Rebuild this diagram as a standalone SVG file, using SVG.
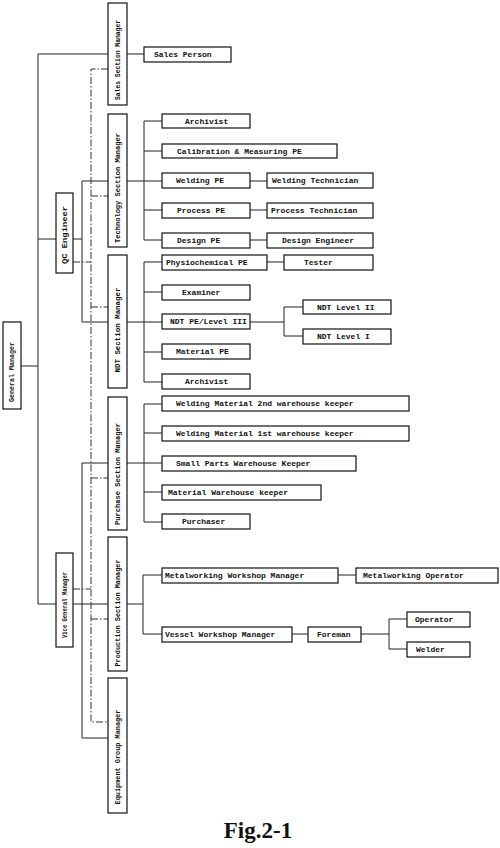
<svg xmlns="http://www.w3.org/2000/svg" width="500" height="848" viewBox="0 0 500 848">
<style>
.b{fill:#fff;stroke:#111;stroke-width:1.2}
.t{font-family:"Liberation Mono",monospace;font-weight:bold;font-size:8px;fill:#111;dominant-baseline:central}
.v{font-family:"Liberation Mono",monospace;font-weight:bold;font-size:7px;fill:#111;text-anchor:middle;dominant-baseline:central}
.l{fill:none;stroke:#222;stroke-width:1}
.d{fill:none;stroke:#333;stroke-width:1;stroke-dasharray:7 2 1.5 2}
</style>
<rect width="500" height="848" fill="#fff"/>
<g id="connectors">
<path class="l" d="M38 54V604M21 366H38M38 54H108M38 239H56M73 239H82M82 181V322M82 181H108M82 322H108M38 604H56M73 604H108M82 463V738M82 463H108M82 738H108"/>
<path class="d" d="M108 69H91V722H108M91 196H108M91 307H108M91 478H108M91 619H108M73 262H91M73 589H91"/>
<path class="l" d="M127 54H144"/>
<path class="l" d="M127 181H162M144 121V240M144 121H162M144 151H162M144 210H162M144 240H162M250 181H267M250 210H267M250 240H267"/>
<path class="l" d="M127 322H162M144 262V382M144 262H162M144 292H162M144 352H162M144 382H162M267 262H284M250 322H284M284 307V336M284 307H303M284 336H303"/>
<path class="l" d="M127 463H162M144 404V522M144 404H162M144 433H162M144 492H162M144 522H162"/>
<path class="l" d="M127 604H143M143 575V634M143 575H162M143 634H162M338 575H356M292 634H308M361 634H389M389 619V649M389 619H407M389 649H407"/>
</g>
<g id="gm"><rect class="b" x="3" y="322" width="18" height="87"/><text class="v" transform="translate(12,372) rotate(-90)" textLength="60" lengthAdjust="spacingAndGlyphs">General Manager</text></g>
<g id="qc"><rect class="b" x="56" y="193" width="17" height="80"/><text class="v" transform="translate(64.5,235) rotate(-90)" textLength="58" lengthAdjust="spacingAndGlyphs">QC Engineer</text></g>
<g id="vgm"><rect class="b" x="56" y="553" width="17" height="94"/><text class="v" transform="translate(64.5,605) rotate(-90)" textLength="66" lengthAdjust="spacingAndGlyphs">Vice General Manager</text></g>
<g id="sales"><rect class="b" x="108" y="3" width="19" height="102"/><text class="v" transform="translate(117.5,60) rotate(-90)" textLength="80" lengthAdjust="spacingAndGlyphs">Sales Section Manager</text></g>
<g id="tech"><rect class="b" x="108" y="114" width="19" height="133"/><text class="v" transform="translate(117.5,188) rotate(-90)" textLength="110" lengthAdjust="spacingAndGlyphs">Technology Section Manager</text></g>
<g id="ndt"><rect class="b" x="108" y="255" width="19" height="133"/><text class="v" transform="translate(117.5,330) rotate(-90)" textLength="85" lengthAdjust="spacingAndGlyphs">NDT Section Manager</text></g>
<g id="purchase"><rect class="b" x="108" y="397" width="19" height="133"/><text class="v" transform="translate(117.5,474) rotate(-90)" textLength="102" lengthAdjust="spacingAndGlyphs">Purchase Section Manager</text></g>
<g id="production"><rect class="b" x="108" y="537" width="19" height="134"/><text class="v" transform="translate(117.5,613) rotate(-90)" textLength="107" lengthAdjust="spacingAndGlyphs">Production Section Manager</text></g>
<g id="equipment"><rect class="b" x="108" y="678" width="19" height="135"/><text class="v" transform="translate(117.5,757) rotate(-90)" textLength="95" lengthAdjust="spacingAndGlyphs">Equipment Group Manager</text></g>
<g id="salesperson"><rect class="b" x="144" y="47" width="87" height="15"/><text class="t" x="154" y="54.5">Sales Person</text></g>
<g id="archivist1"><rect class="b" x="162" y="114" width="88" height="14"/><text class="t" x="185" y="121">Archivist</text></g>
<g id="calibration"><rect class="b" x="162" y="144" width="175" height="14"/><text class="t" x="177" y="151">Calibration &amp; Measuring PE</text></g>
<g id="weldingpe"><rect class="b" x="162" y="173" width="88" height="15"/><text class="t" x="176" y="180.5">Welding PE</text></g>
<g id="weldingtech"><rect class="b" x="267" y="173" width="106" height="15"/><text class="t" x="272" y="180.5">Welding Technician</text></g>
<g id="processpe"><rect class="b" x="162" y="203" width="88" height="15"/><text class="t" x="177" y="210.5">Process PE</text></g>
<g id="processtech"><rect class="b" x="267" y="203" width="106" height="15"/><text class="t" x="271" y="210.5">Process Technician</text></g>
<g id="designpe"><rect class="b" x="162" y="233" width="88" height="15"/><text class="t" x="177" y="240.5">Design PE</text></g>
<g id="designeng"><rect class="b" x="267" y="233" width="106" height="15"/><text class="t" x="282" y="240.5">Design Engineer</text></g>
<g id="physio"><rect class="b" x="162" y="255" width="105" height="15"/><text class="t" x="166" y="262.5">Physiochemical PE</text></g>
<g id="tester"><rect class="b" x="284" y="255" width="89" height="15"/><text class="t" x="304" y="262.5">Tester</text></g>
<g id="examiner"><rect class="b" x="162" y="285" width="88" height="15"/><text class="t" x="182" y="292.5">Examiner</text></g>
<g id="ndtpe"><rect class="b" x="162" y="314" width="88" height="15"/><text class="t" x="170" y="321.5">NDT PE/Level III</text></g>
<g id="ndt2"><rect class="b" x="303" y="300" width="88" height="14"/><text class="t" x="317" y="307">NDT Level II</text></g>
<g id="ndt1"><rect class="b" x="303" y="329" width="88" height="15"/><text class="t" x="317" y="336.5">NDT Level I</text></g>
<g id="materialpe"><rect class="b" x="162" y="344" width="88" height="15"/><text class="t" x="176" y="351.5">Material PE</text></g>
<g id="archivist2"><rect class="b" x="162" y="374" width="88" height="15"/><text class="t" x="185" y="381.5">Archivist</text></g>
<g id="wm2"><rect class="b" x="162" y="396" width="247" height="15"/><text class="t" x="176" y="403.5">Welding Material 2nd warehouse keeper</text></g>
<g id="wm1"><rect class="b" x="162" y="426" width="247" height="15"/><text class="t" x="176" y="433.5">Welding Material 1st warehouse keeper</text></g>
<g id="smallparts"><rect class="b" x="162" y="456" width="194" height="15"/><text class="t" x="176" y="463.5">Small Parts Warehouse Keeper</text></g>
<g id="matwh"><rect class="b" x="162" y="485" width="159" height="15"/><text class="t" x="168" y="492.5">Material Warehouse keeper</text></g>
<g id="purchaser"><rect class="b" x="162" y="514" width="88" height="15"/><text class="t" x="182" y="521.5">Purchaser</text></g>
<g id="metalmgr"><rect class="b" x="162" y="568" width="176" height="15"/><text class="t" x="165" y="575.5">Metalworking Workshop Manager</text></g>
<g id="metalop"><rect class="b" x="356" y="568" width="142" height="15"/><text class="t" x="363" y="575.5">Metalworking Operator</text></g>
<g id="vesselmgr"><rect class="b" x="162" y="627" width="130" height="15"/><text class="t" x="165" y="634.5">Vessel Workshop Manager</text></g>
<g id="foreman"><rect class="b" x="308" y="627" width="53" height="15"/><text class="t" x="317" y="634.5">Foreman</text></g>
<g id="operator"><rect class="b" x="407" y="612" width="63" height="15"/><text class="t" x="415" y="619.5">Operator</text></g>
<g id="welder"><rect class="b" x="407" y="642" width="63" height="15"/><text class="t" x="416" y="649.5">Welder</text></g>
<text x="258" y="838" text-anchor="middle" font-family="Liberation Serif,serif" font-weight="bold" font-size="23" fill="#111">Fig.2-1</text>
</svg>
